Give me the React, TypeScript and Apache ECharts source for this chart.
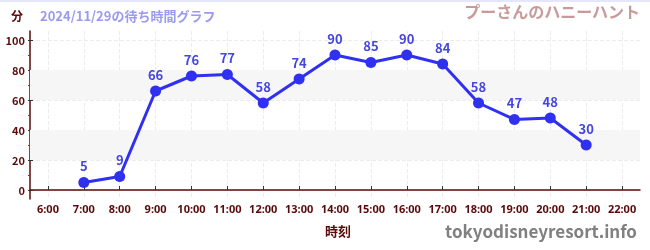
import React, { useEffect, useRef } from "react";
import * as echarts from "echarts";

const hours = [7, 8, 9, 10, 11, 12, 13, 14, 15, 16, 17, 18, 19, 20, 21];
const waits = [5, 9, 66, 76, 77, 58, 74, 90, 85, 90, 84, 58, 47, 48, 30];
const xTickHours = [6, 7, 8, 9, 10, 11, 12, 13, 14, 15, 16, 17, 18, 19, 20, 21, 22];
const yMajor = [0, 20, 40, 60, 80, 100];
const yMinor = [10, 30, 50, 70, 90];
const bands = [[20, 40], [60, 80]];

const dark = "#5a0a0a";

export default function App() {
  const ref = useRef<HTMLDivElement>(null);
  useEffect(() => {
    const chart = echarts.init(ref.current!, null, { renderer: "svg" });
    const font = "'Noto Sans CJK JP', 'Noto Sans', sans-serif";
    const yBase = { type: "value", position: "left", min: -6, max: 106 };
    chart.setOption({
      animation: false,
      textStyle: { fontFamily: font },
      grid: { left: 30, right: 10, top: 31, bottom: 51 },
      graphic: [
        { type: "rect", shape: { x: 0, y: 0, width: 650, height: 2 }, style: { fill: "#e6e6fb" } },
        { type: "text", x: 11, y: 9, style: { text: "分", fill: dark, font: `bold 12px ${font}` } },
        { type: "text", x: 40, y: 9, style: { text: "2024/11/29の待ち時間グラフ", fill: "#9a9af0", font: `bold 13px ${font}` } },
        { type: "text", x: 640, y: 3, style: { text: "プーさんのハニーハント", fill: "#c99a9a", font: `bold 16px ${font}`, textAlign: "right" } },
        { type: "text", x: 338, y: 224, style: { text: "時刻", fill: dark, font: `bold 13px ${font}`, textAlign: "center" } },
        { type: "text", x: 637, y: 222, style: { text: "tokyodisneyresort.info", fill: "#808080", font: `bold 17px ${font}`, textAlign: "right" } },
      ],
      xAxis: {
        type: "value",
        min: 5.5,
        max: 22.5,
        axisLine: { show: true, lineStyle: { color: dark, width: 1.5 } },
        axisTick: { show: true, inside: true, customValues: xTickHours, length: 4, lineStyle: { color: "#333" } },
        axisLabel: {
          customValues: xTickHours,
          formatter: (v: number) => `${v}:00`,
          color: dark,
          fontSize: 11,
          fontWeight: "bold",
          fontFamily: "'Liberation Sans Narrow', 'Noto Sans', sans-serif",
          margin: 4,
        },
        splitLine: { show: true, lineStyle: { color: "#ececec", type: "dashed" } },
      },
      yAxis: [
        {
          ...yBase,
          axisLine: { show: true, lineStyle: { color: dark, width: 1.5 } },
          axisTick: { show: true, inside: true, customValues: yMajor, length: 3, lineStyle: { color: "#333" } },
          axisLabel: { customValues: yMajor, color: dark, fontSize: 11, fontWeight: "bold", margin: 5 },
          splitLine: { show: true, lineStyle: { color: "#ececec", type: "dashed" } },
        },
        {
          ...yBase,
          axisLine: { show: false },
          axisTick: { show: true, customValues: yMinor, length: 2, lineStyle: { color: "#d01010" } },
          axisLabel: { show: false },
          splitLine: { show: false },
        },
        {
          ...yBase,
          axisLine: { show: false },
          axisTick: { show: true, customValues: yMajor, length: 2, lineStyle: { color: "#333" } },
          axisLabel: { show: false },
          splitLine: { show: false },
        },
      ],
      series: [
        {
          type: "line",
          data: hours.map((h, i) => [h, waits[i]]),
          symbol: "circle",
          symbolSize: 11,
          lineStyle: { color: "#3030f0", width: 3 },
          itemStyle: { color: "#3030f0" },
          label: { show: true, position: "top", color: "#4545e0", fontSize: 13, fontWeight: "bold", distance: 5 },
          markArea: {
            silent: true,
            itemStyle: { color: "#f6f6f6" },
            data: bands.map((b) => [{ yAxis: b[0] }, { yAxis: b[1] }]),
          },
          z: 3,
        },
      ],
    });
    return () => chart.dispose();
  }, []);
  return <div ref={ref} style={{ position: "fixed", left: 0, top: 0, width: 650, height: 250 }} />;
}
